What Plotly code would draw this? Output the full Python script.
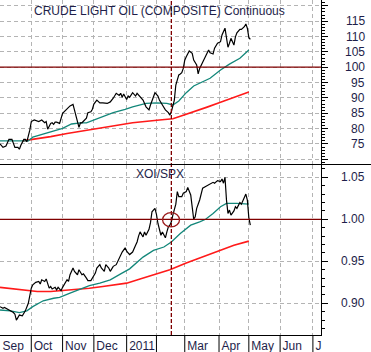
import plotly.graph_objects as go
from plotly.subplots import make_subplots

# ---- data (x = trading session number counted from 1 Sep 2010) ----
month_starts = [0, 21, 42, 63, 85, 105, 124, 147, 167, 188, 210]
month_labels = ["Sep", "Oct", "Nov", "Dec", "2011", "", "Mar", "Apr", "May", "Jun", "J"]

oil_s = [0, 2, 4, 6, 8, 9, 10, 12, 13, 14, 15, 16, 17, 18, 20, 21, 23, 26, 28, 30,
         31, 32, 34, 35, 36, 37, 38, 40, 42, 45, 47, 49, 50, 52, 53, 54, 55, 58, 59, 61,
         62, 63, 65, 67, 69, 72, 74, 76, 78, 80, 81, 82, 83, 85, 86, 87, 89, 91, 92, 94,
         96, 98, 100, 101, 103, 104, 106, 107, 109, 110, 111, 113, 114, 115, 116, 117, 118, 120, 121, 122,
         123, 124, 125, 127, 129, 130, 132, 133, 134, 135, 136, 138, 140, 141, 143, 144, 146, 148, 149, 151,
         152, 153, 154, 155, 157, 158, 159, 161, 162, 164, 165, 166, 167, 168]
oil_v = [75.0, 73.9, 74.3, 76.5, 76.5, 75.4, 73.9, 73.9, 73.3, 74.6, 75.7, 76.5, 76.5, 75.7, 79.5, 82.3, 82.8, 82.3, 82.8, 81.9,
         82.3, 79.8, 81.7, 81.9, 81.4, 82.1, 82.1, 81.7, 85.0, 86.6, 87.4, 87.9, 86.3, 82.3, 80.4, 81.9, 81.9, 83.4, 85.2, 85.5,
         86.3, 88.0, 89.3, 88.4, 88.4, 88.2, 88.7, 89.9, 91.5, 90.8, 91.5, 90.2, 91.3, 89.5, 90.6, 90.2, 91.7, 90.6, 91.5, 90.2,
         89.3, 87.1, 86.1, 87.7, 90.9, 91.7, 90.6, 89.3, 87.7, 86.6, 86.1, 85.2, 84.4, 85.5, 87.1, 89.3, 94.2, 97.5, 97.8, 98.2,
         99.6, 102.3, 103.4, 105.3, 104.5, 102.3, 100.7, 97.8, 99.6, 100.7, 101.8, 103.4, 105.6, 104.7, 104.3, 106.2, 107.8, 108.3, 110.5, 112.7,
         109.9, 106.5, 107.8, 109.4, 107.2, 109.9, 111.2, 112.3, 112.3, 113.2, 114.1, 112.7, 109.7, 109.1]

oil_ma_fast_s = [0, 7, 19, 22, 29, 36, 42, 48, 54, 58, 63, 69, 76, 84, 89, 98, 105, 112, 116, 120,
                 125, 130, 135, 141, 148, 154, 161, 167]
oil_ma_fast_v = [76.0, 76.0, 76.0, 77.2, 78.2, 79.3, 80.1, 81.5, 81.9, 81.9, 82.8, 84.1, 85.2, 86.3, 87.1, 88.2, 88.4, 88.2, 87.7, 89.0,
                 91.7, 93.9, 95.0, 96.4, 99.1, 101.0, 102.9, 105.6]

oil_ma_slow_s = [15, 22, 34, 45, 56, 67, 78, 89, 107, 116, 121, 130, 139, 148, 157, 167]
oil_ma_slow_v = [76.0, 76.5, 77.4, 78.4, 79.3, 80.1, 80.9, 81.9, 82.8, 83.2, 84.0, 85.4, 87.0, 88.6, 90.1, 91.9]

xoi_s = [0, 2, 3, 6, 8, 9, 10, 11, 12, 13, 15, 16, 17, 19, 20, 21, 22, 24, 26, 27,
         28, 30, 31, 32, 33, 34, 35, 37, 38, 39, 41, 42, 44, 45, 46, 47, 49, 50, 52, 53,
         55, 56, 58, 59, 61, 63, 64, 65, 67, 68, 70, 71, 73, 74, 76, 78, 79, 80, 82, 84,
         85, 87, 89, 91, 92, 93, 94, 96, 97, 98, 100, 101, 102, 104, 105, 106, 107, 108, 109, 111,
         112, 113, 114, 115, 116, 117, 118, 119, 120, 122, 123, 125, 126, 128, 129, 130, 131, 132, 134, 135,
         136, 138, 140, 141, 143, 144, 146, 148, 149, 150, 151, 152, 153, 154, 155, 157, 158, 159, 161, 162,
         164, 165, 166, 167, 168]
xoi_v = [0.896, 0.894, 0.895, 0.892, 0.891, 0.889, 0.887, 0.880, 0.883, 0.886, 0.885, 0.888, 0.891, 0.900, 0.910, 0.918, 0.922, 0.925, 0.926, 0.923,
         0.928, 0.926, 0.929, 0.922, 0.918, 0.920, 0.917, 0.919, 0.916, 0.919, 0.915, 0.919, 0.924, 0.928, 0.926, 0.934, 0.942, 0.938, 0.934, 0.940,
         0.934, 0.935, 0.930, 0.927, 0.927, 0.932, 0.936, 0.942, 0.946, 0.942, 0.938, 0.946, 0.942, 0.938, 0.944, 0.946, 0.950, 0.954, 0.961, 0.966,
         0.962, 0.958, 0.961, 0.969, 0.973, 0.980, 0.985, 0.979, 0.985, 0.981, 0.988, 0.996, 1.009, 1.013, 1.006, 0.995, 0.989, 0.981, 0.985, 0.978,
         0.985, 0.991, 0.993, 0.997, 1.005, 1.011, 1.018, 1.033, 1.027, 1.027, 1.031, 1.033, 1.038, 1.029, 1.013, 1.000, 1.003, 1.013, 1.023, 1.031,
         1.037, 1.039, 1.041, 1.042, 1.044, 1.043, 1.046, 1.045, 1.048, 1.043, 1.050, 1.023, 1.007, 1.011, 1.005, 1.010, 1.015, 1.013, 1.020, 1.018,
         1.025, 1.030, 1.023, 1.002, 0.993]

xoi_ma_fast_s = [0, 7, 13, 18, 22, 29, 36, 40, 47, 54, 60, 67, 74, 81, 87, 96, 103, 110, 115, 121,
                 128, 134, 138, 143, 148, 152, 159, 167]
xoi_ma_fast_v = [0.892, 0.891, 0.889, 0.891, 0.896, 0.903, 0.906, 0.907, 0.912, 0.917, 0.921, 0.924, 0.928, 0.935, 0.941, 0.955, 0.963, 0.967, 0.973, 0.983,
                 0.993, 0.997, 1.000, 1.007, 1.015, 1.019, 1.019, 1.018]

xoi_ma_slow_s = [0, 9, 18, 25, 34, 42, 51, 60, 69, 78, 85, 94, 105, 114, 125, 136, 148, 157, 167]
xoi_ma_slow_v = [0.919, 0.917, 0.915, 0.914, 0.914, 0.915, 0.916, 0.918, 0.920, 0.922, 0.924, 0.929, 0.935, 0.940, 0.948, 0.955, 0.963, 0.969, 0.974]

oil_ticks = [75, 80, 85, 90, 95, 100, 105, 110, 115]
xoi_ticks = [0.90, 0.95, 1.00, 1.05]
oil_ref = 100
xoi_ref = 1.00
event_session = 115
circle_box = (109.1, 120.5, 0.991, 1.008)

# ---- figure ----
W, H = 371, 352
ML, MR, MT, MB = 0, 50, 0, 17
PW, PH = W - ML - MR, H - MT - MB
split = (PH - 164.5) / PH

NAVY = "#1e1e4a"
GRID = "#b4b4b4"
FONT = "Liberation Sans, Arial, sans-serif"
TEAL = "#13877a"
RED = "#ff1a1a"
DARKRED = "#800000"

fig = make_subplots(rows=2, cols=1, shared_xaxes=True, vertical_spacing=0)

fig.add_trace(go.Scatter(x=oil_ma_slow_s, y=oil_ma_slow_v, mode="lines", line=dict(color=RED, width=1.6)), row=1, col=1)
fig.add_trace(go.Scatter(x=oil_ma_fast_s, y=oil_ma_fast_v, mode="lines", line=dict(color=TEAL, width=1.3)), row=1, col=1)
fig.add_trace(go.Scatter(x=oil_s, y=oil_v, mode="lines", line=dict(color="black", width=1.2)), row=1, col=1)

fig.add_trace(go.Scatter(x=xoi_ma_slow_s, y=xoi_ma_slow_v, mode="lines", line=dict(color=RED, width=1.6)), row=2, col=1)
fig.add_trace(go.Scatter(x=xoi_ma_fast_s, y=xoi_ma_fast_v, mode="lines", line=dict(color=TEAL, width=1.3)), row=2, col=1)
fig.add_trace(go.Scatter(x=xoi_s, y=xoi_v, mode="lines", line=dict(color="black", width=1.2)), row=2, col=1)

xr = [0, PW / 1.49]
common_x = dict(range=xr, tickvals=month_starts, showgrid=True, gridcolor=GRID, griddash="4px,3px",
                gridwidth=1, zeroline=False)
fig.update_layout(
    xaxis=dict(**common_x, showticklabels=False, ticks=""),
    xaxis2=dict(**common_x, ticktext=month_labels, ticks="", showline=True, linecolor="black", linewidth=1,
                ticklabelposition="outside right", ticklabelshift=2,
                tickfont=dict(family=FONT, size=12, color=NAVY)),
)

common_y = dict(side="right", showline=True, linecolor="black", linewidth=1, ticks="outside", ticklen=6,
                tickcolor="black", showgrid=True, gridcolor=GRID, griddash="4px,3px", gridwidth=1,
                zeroline=False, showticklabels=False)
fig.update_layout(
    yaxis=dict(**common_y, domain=[split, 1], range=[68.31, 121.89], dtick=5, tick0=0,
               minor=dict(dtick=1, tick0=0, ticks="outside", ticklen=3, tickcolor="black", showgrid=False)),
    yaxis2=dict(**common_y, domain=[0, split], range=[0.86226, 1.06524], dtick=0.05, tick0=0,
                minor=dict(dtick=0.01, tick0=0, ticks="outside", ticklen=3, tickcolor="black", showgrid=False)),
)

ann = []
lab_x = 366.5 / PW
for v in oil_ticks:
    ann.append(dict(x=lab_x, xref="paper", y=v, yref="y", text=str(v), xanchor="right", yanchor="middle",
                    showarrow=False, font=dict(family=FONT, size=12, color=NAVY)))
for v in xoi_ticks:
    ann.append(dict(x=lab_x, xref="paper", y=v, yref="y2", text=f"{v:.2f}", xanchor="right", yanchor="middle",
                    showarrow=False, font=dict(family=FONT, size=12, color=NAVY)))
ann.append(dict(x=159.7 / PW, xref="paper", y=1 - 10.5 / PH, yref="paper", text="CRUDE LIGHT OIL (COMPOSITE) Continuous",
                xanchor="center", yanchor="middle", showarrow=False, font=dict(family=FONT, size=12, color=NAVY)))
ann.append(dict(x=159.7 / PW, xref="paper", y=1 - 174.2 / PH, yref="paper", text="XOI/SPX",
                xanchor="center", yanchor="middle", showarrow=False, font=dict(family=FONT, size=12, color=NAVY)))

shapes = []
shapes.append(dict(type="line", xref="paper", x0=0, x1=1, yref="y", y0=oil_ref, y1=oil_ref,
                   line=dict(color=DARKRED, width=1.3)))
shapes.append(dict(type="line", xref="paper", x0=0, x1=1, yref="y2", y0=xoi_ref, y1=xoi_ref,
                   line=dict(color=DARKRED, width=1.3)))
shapes.append(dict(type="line", xref="x", x0=event_session, x1=event_session, yref="paper", y0=0, y1=1,
                   line=dict(color=DARKRED, width=1.3, dash="4px,2px")))
shapes.append(dict(type="circle", xref="x2", yref="y2", x0=circle_box[0], x1=circle_box[1],
                   y0=circle_box[2], y1=circle_box[3], line=dict(color="#9b1c1c", width=1.3)))
shapes.append(dict(type="line", xref="paper", x0=0, x1=W / PW, yref="paper", y0=split, y1=split,
                   line=dict(color="black", width=1)))
for s in month_starts[1:]:
    shapes.append(dict(type="line", xref="x2", x0=s, x1=s, yref="paper", y0=-MB / PH, y1=0,
                       line=dict(color="black", width=1)))

fig.update_layout(width=W, height=H, margin=dict(l=ML, r=MR, t=MT, b=MB), showlegend=False,
                  paper_bgcolor="white", plot_bgcolor="white", annotations=ann, shapes=shapes,
                  font=dict(family=FONT, size=12, color=NAVY))

fig.write_html("out.html")
